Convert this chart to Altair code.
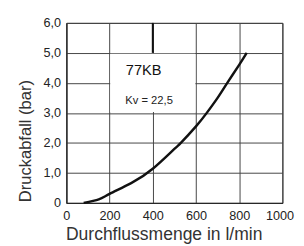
import altair as alt
import pandas as pd

# curve
flow = [80, 150, 200, 300, 400, 500, 530, 600, 650, 700, 745, 800, 835]
pressure = [0.0, 0.12, 0.3, 0.66, 1.14, 1.8, 2.0, 2.55, 3.0, 3.5, 4.0, 4.6, 5.0]

x_ticks = [0, 200, 400, 600, 800, 1000]
y_ticks = [0, 1, 2, 3, 4, 5, 6]

box_x = [203, 597]
box_y = [3.03, 4.97]
label_texts = ["77KB", "Kv = 22,5"]
label_x = [275, 273]
label_y = [4.27, 3.3]
title_text = "77KB \u2013 \u00a01 1/2"
rule_x = [400]
rule_y = [5, 6]

FONT = "Liberation Sans"
W, H = 222, 185

curve_df = pd.DataFrame({"q": flow, "p": pressure})
box_df = pd.DataFrame({"x": [box_x[0]], "x2": [box_x[1]], "y": [box_y[0]], "y2": [box_y[1]]})
rule_df = pd.DataFrame({"x": rule_x, "y": [rule_y[0]], "y2": [rule_y[1]]})

xs = alt.Scale(domain=[0, 1000], nice=False)
ys = alt.Scale(domain=[0, 6], nice=False)

x_axis = alt.Axis(
    values=x_ticks, title="Durchflussmenge in l/min", grid=True, ticks=False,
    labelPadding=7, labelFontSize=13, labelFont=FONT, labelColor="#222",
    format="d",
    labelAlign="center",
    labelOffset={"condition": {"test": "datum.value == 1000", "value": -3}, "value": 0},
    titleFont=FONT, titleFontSize=18, titleFontWeight="normal", titleColor="#333",
    titleX=100, titleY=38, titleAlign="center", titleBaseline="alphabetic",
    domain=True, domainColor="#222", labelFlush=False,
)
y_axis = alt.Axis(
    values=y_ticks, title="Druckabfall (bar)", grid=True, ticks=False,
    labelPadding=6, labelFontSize=13, labelFont=FONT, labelColor="#222",
    labelExpr="datum.value == 0 ? '0' : replace(format(datum.value, '.1f'), '.', ',')",
    titleFont=FONT, titleFontSize=17, titleFontWeight="normal", titleColor="#333",
    titleX=-42, titleY=121, titleAngle=270, titleAlign="center", titleBaseline="middle",
    domain=True, domainColor="#222", labelFlush=False,
)

box = alt.Chart(box_df).mark_rect(fill="white").encode(
    x=alt.X("x:Q", scale=xs, axis=x_axis), x2="x2",
    y=alt.Y("y:Q", scale=ys, axis=y_axis), y2="y2",
)

rule = alt.Chart(rule_df).mark_rule(color="#111", strokeWidth=2).encode(
    x=alt.X("x:Q", scale=xs, axis=x_axis), y=alt.Y("y:Q", scale=ys, axis=y_axis), y2="y2"
)

curve = alt.Chart(curve_df).mark_line(color="#111", strokeWidth=2.5, interpolate="natural").encode(
    x=alt.X("q:Q", scale=xs, axis=x_axis),
    y=alt.Y("p:Q", scale=ys, axis=y_axis),
)

t1 = alt.Chart(pd.DataFrame({"x": [label_x[0]], "y": [label_y[0]], "t": [label_texts[0]]})).mark_text(
    font=FONT, fontSize=15, color="#111", align="left", baseline="alphabetic"
).encode(x=alt.X("x:Q", scale=xs, axis=x_axis), y=alt.Y("y:Q", scale=ys, axis=y_axis), text="t:N")

t2 = alt.Chart(pd.DataFrame({"x": [label_x[1]], "y": [label_y[1]], "t": [label_texts[1]]})).mark_text(
    font=FONT, fontSize=11.5, color="#222", align="left", baseline="alphabetic"
).encode(x=alt.X("x:Q", scale=xs, axis=x_axis), y=alt.Y("y:Q", scale=ys, axis=y_axis), text="t:N")

title = alt.Chart(pd.DataFrame({"t": [title_text]})).mark_text(
    font=FONT, fontSize=20, fontWeight="bold", color="#111", align="left", baseline="alphabetic"
).encode(x=alt.value(-46), y=alt.value(-16), text="t:N")

chart = alt.layer(box, rule, curve, t1, t2, title).properties(
    width=W, height=H,
    autosize=alt.AutoSizeParams(type="none"),
    padding={"left": 60, "top": 12, "right": 14, "bottom": 41},
).configure_view(stroke="#222", strokeWidth=1).configure_axis(
    gridColor="#444", gridWidth=1, gridOpacity=1
)

chart.save("out.html", embed_options={"renderer": "svg", "actions": False})
